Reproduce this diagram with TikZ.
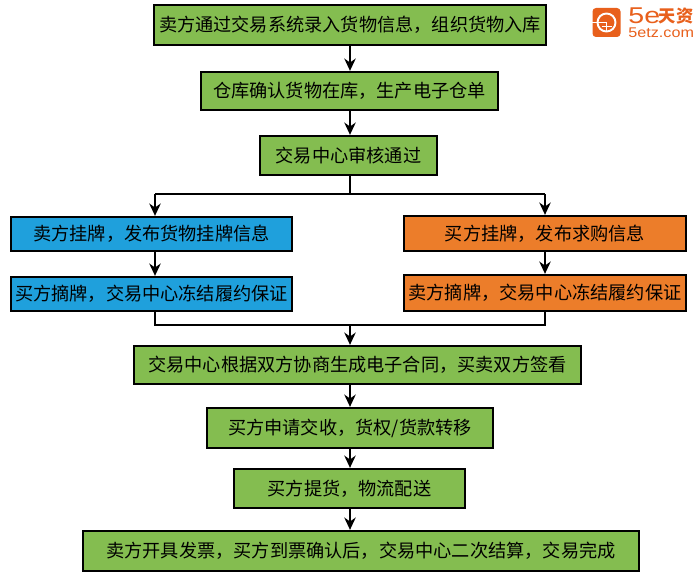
\documentclass[tikz,border=0pt]{standalone}
\usepackage{fontspec}
\setmainfont{Noto Sans CJK SC}
\newfontfamily\logofont{Liberation Sans}
\usetikzlibrary{arrows.meta}
\definecolor{flowgreen}{HTML}{84BD50}
\definecolor{flowblue}{HTML}{1FA0DC}
\definecolor{floworange}{HTML}{EC7D2A}
\definecolor{logoorange}{HTML}{E8601C}
\tikzset{
	flowbox/.style={draw=black, line width=1.3pt, inner sep=0pt, align=center, font=\fontsize{10.35pt}{12pt}\selectfont},
	greenbox/.style={flowbox, fill=flowgreen},
	bluebox/.style={flowbox, fill=flowblue},
	orangebox/.style={flowbox, fill=floworange},
	flowline/.style={line width=1.2pt},
	flowarrow/.style={flowline, -{Stealth[length=7pt, width=6.5pt]}}
}

\begin{document}
\begin{tikzpicture}
	\useasboundingbox (0, 0) rectangle (14, -11.52);
	\node[greenbox, minimum width=7.84cm, minimum height=0.8cm] (entry) at (7, -0.5) {卖方通过交易系统录入货物信息，组织货物入库};
	\node[greenbox, minimum width=5.94cm, minimum height=0.76cm] (store) at (6.99, -1.82) {仓库确认货物在库，生产电子仓单};
	\node[greenbox, minimum width=3.54cm, minimum height=0.78cm] (audit) at (6.97, -3.11) {交易中心审核通过};
	\node[bluebox, minimum width=5.62cm, minimum height=0.68cm] (sellpost) at (3.03, -4.68) {卖方挂牌，发布货物挂牌信息};
	\node[bluebox, minimum width=5.62cm, minimum height=0.68cm] (sellpick) at (3.03, -5.88) {买方摘牌，交易中心冻结履约保证};
	\node[orangebox, minimum width=5.64cm, minimum height=0.7cm] (buypost) at (10.9, -4.67) {买方挂牌，发布求购信息};
	\node[orangebox, minimum width=5.64cm, minimum height=0.72cm] (buypick) at (10.9, -5.86) {卖方摘牌，交易中心冻结履约保证};
	\node[greenbox, minimum width=8.94cm, minimum height=0.76cm] (contract) at (7.15, -7.3) {交易中心根据双方协商生成电子合同，买卖双方签看};
	\node[greenbox, minimum width=5.72cm, minimum height=0.8cm] (apply) at (7, -8.56) {买方申请交收，货权/货款转移};
	\node[greenbox, minimum width=4.62cm, minimum height=0.78cm] (pickup) at (6.99, -9.77) {买方提货，物流配送};
	\node[greenbox, minimum width=11.12cm, minimum height=0.8cm] (finish) at (7.22, -11.02) {卖方开具发票，买方到票确认后，交易中心二次结算，交易完成};
	\coordinate (mid) at (7, -3.88);
	\coordinate (splitl) at (3.1, -3.88);
	\coordinate (splitr) at (10.9, -3.88);
	\coordinate (joinl) at (3.1, -6.5);
	\coordinate (joinm) at (7, -6.5);
	\coordinate (joinr) at (10.9, -6.5);
	\draw[flowarrow] (mid |- entry.south) -- (mid |- store.north);
	\draw[flowarrow] (mid |- store.south) -- (mid |- audit.north);
	\draw[flowline] (mid |- audit.south) -- (mid);
	\draw[flowline] (splitl) -- (splitr);
	\draw[flowarrow] (splitl) -- (splitl |- sellpost.north);
	\draw[flowarrow] (splitr) -- (buypost.north);
	\draw[flowarrow] (splitl |- sellpost.south) -- (splitl |- sellpick.north);
	\draw[flowarrow] (buypost.south) -- (buypick.north);
	\draw[flowline] (joinl |- sellpick.south) -- (joinl) -- (joinr) -- (buypick.south);
	\draw[flowarrow] (joinm) -- (joinm |- contract.north);
	\draw[flowarrow] (joinm |- contract.south) -- (joinm |- apply.north);
	\draw[flowarrow] (mid |- apply.south) -- (mid |- pickup.north);
	\draw[flowarrow] (mid |- pickup.south) -- (mid |- finish.north);
	\node[fill=logoorange, rounded corners=2pt, minimum width=0.56cm, minimum height=0.58cm, inner sep=0pt] (logo) at (12.13, -0.45) {};
	\draw[white, line width=1.1pt] (logo.center) circle (0.18cm);
	\draw[white, line width=0.9pt] (logo.west) -- (logo.center);
	\draw[white, line width=0.9pt] ([xshift=-0.1cm, yshift=-0.08cm]logo.center) -- ([xshift=0.1cm, yshift=-0.08cm]logo.center);
	\draw[white, line width=0.9pt] (logo.center) -- ([yshift=-0.18cm]logo.center);
	\node[text=logoorange, font=\logofont\fontsize{13pt}{13pt}\selectfont, inner sep=0pt, anchor=west, xscale=1.25] (brand) at (12.56, -0.32) {5e};
	\node[text=logoorange, font=\fontsize{9.8pt}{9.8pt}\selectfont\bfseries, inner sep=0pt, anchor=west] (brandcn) at (13.17, -0.32) {天资};
	\node[text=logoorange, font=\logofont\fontsize{8pt}{8pt}\selectfont, inner sep=0pt, anchor=west, xscale=1.15] (site) at (12.56, -0.66) {5etz.com};
\end{tikzpicture}
\end{document}
